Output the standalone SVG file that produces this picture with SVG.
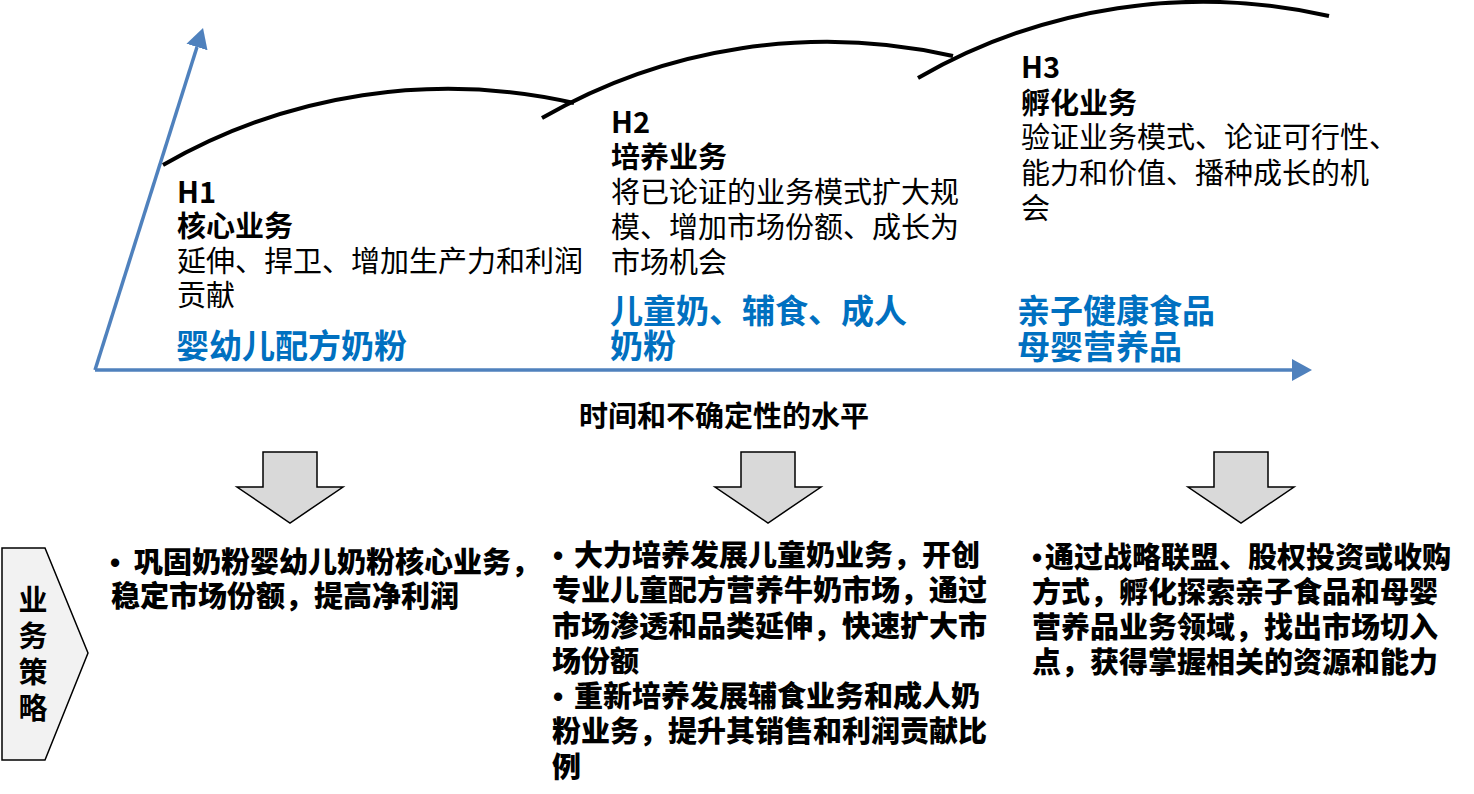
<svg xmlns="http://www.w3.org/2000/svg" width="1474" height="794" viewBox="0 0 1474 794">
<style>
text { font-family: "Noto Sans CJK SC", "Noto Sans", sans-serif; fill: #000; font-size: 29px; }
.h { font-weight: 700; }
.s { font-weight: 900; }
.bul { font-family: "Liberation Sans", Arial, sans-serif; font-weight: 700; }
.r { font-weight: 400; }
.blue { font-weight: 700; font-size: 33px; fill: #0070C0; }
.axis { stroke: #4F81BD; stroke-width: 3.5; fill: none; }
.arc { stroke: #000; stroke-width: 4; fill: none; }
.down { fill: #D9D9D9; stroke: #000; stroke-width: 1.5; stroke-linejoin: miter; }
.pent { fill: #F2F2F2; stroke: #000; stroke-width: 1.5; }
</style>
<defs>
<marker id="ah" markerUnits="userSpaceOnUse" markerWidth="22" markerHeight="24" viewBox="0 0 22 24" refX="0" refY="12" orient="auto">
<path d="M0,1 L20,12 L0,23 Z" fill="#4F81BD"/>
</marker>
</defs>
<rect width="1474" height="794" fill="#fff"/>

<g id="connectors">
<line class="axis" x1="95" y1="370" x2="1292" y2="370" marker-end="url(#ah)"/>
<line class="axis" x1="95" y1="370" x2="197" y2="47" marker-end="url(#ah)"/>
<path class="arc" d="M163,165 A570,570 0 0 1 574,103"/>
<path class="arc" d="M542,118 A570,570 0 0 1 953,56"/>
<path class="arc" d="M918,78 A570,570 0 0 1 1329,16"/>
<path class="down" d="M263,452 H317 V487 H343 L290,523 L237,487 H263 Z"/>
<path class="down" d="M741,452 H795 V487 H821 L768,523 L715,487 H741 Z"/>
<path class="down" d="M1214,452 H1268 V487 H1294 L1241,523 L1188,487 H1214 Z"/>
</g>

<g id="h1">
<text><tspan class="h" x="177" y="203">H1</tspan><tspan class="h" x="177" y="237">核心业务</tspan><tspan class="r" x="177" y="272">延伸、捍卫、增加生产力和利润</tspan><tspan class="r" x="177" y="306">贡献</tspan><tspan class="blue" x="176" y="358">婴幼儿配方奶粉</tspan></text>
</g>

<g id="h2">
<text><tspan class="h" x="611" y="133">H2</tspan><tspan class="h" x="611" y="168">培养业务</tspan><tspan class="r" x="611" y="203">将已论证的业务模式扩大规</tspan><tspan class="r" x="611" y="238">模、增加市场份额、成长为</tspan><tspan class="r" x="611" y="273">市场机会</tspan><tspan class="blue" x="610" y="323">儿童奶、辅食、成人</tspan><tspan class="blue" x="610" y="358">奶粉</tspan></text>
</g>

<g id="h3">
<text><tspan class="h" x="1021" y="78">H3</tspan><tspan class="h" x="1021" y="114">孵化业务</tspan><tspan class="r" x="1021" y="148">验证业务模式、论证可行性、</tspan><tspan class="r" x="1021" y="184">能力和价值、播种成长的机</tspan><tspan class="r" x="1021" y="219">会</tspan><tspan class="blue" x="1017" y="323">亲子健康食品</tspan><tspan class="blue" x="1017" y="359">母婴营养品</tspan></text>
</g>

<g id="time-label">
<text class="h" x="724" y="427" text-anchor="middle">时间和不确定性的水平</text>
</g>

<g id="strategy-label">
<path class="pent" d="M2,548 H45 L88,653 L45,760 H2 Z"/>
<text class="h" text-anchor="middle"><tspan x="33" y="611">业</tspan><tspan x="33" y="647">务</tspan><tspan x="33" y="683">策</tspan><tspan x="33" y="719">略</tspan></text>
</g>

<g id="strategy-h1">
<text class="s"><tspan class="bul" x="110" y="573">•</tspan><tspan x="134" y="573">巩固奶粉婴幼儿奶粉核心业务，</tspan><tspan x="111" y="607">稳定市场份额，提高净利润</tspan></text>
</g>

<g id="strategy-h2">
<text class="s"><tspan class="bul" x="553" y="566">•</tspan><tspan x="574" y="566">大力培养发展儿童奶业务，开创</tspan><tspan x="552" y="601">专业儿童配方营养牛奶市场，通过</tspan><tspan x="552" y="637">市场渗透和品类延伸，快速扩大市</tspan><tspan x="552" y="672">场份额</tspan><tspan class="bul" x="553" y="707">•</tspan><tspan x="574" y="707">重新培养发展辅食业务和成人奶</tspan><tspan x="552" y="742">粉业务，提升其销售和利润贡献比</tspan><tspan x="552" y="778">例</tspan></text>
</g>

<g id="strategy-h3">
<text class="s"><tspan class="bul" x="1032" y="568">•</tspan><tspan x="1045" y="568">通过战略联盟、股权投资或收购</tspan><tspan x="1032" y="603">方式，孵化探索亲子食品和母婴</tspan><tspan x="1032" y="638">营养品业务领域，找出市场切入</tspan><tspan x="1032" y="673">点，获得掌握相关的资源和能力</tspan></text>
</g>
</svg>
